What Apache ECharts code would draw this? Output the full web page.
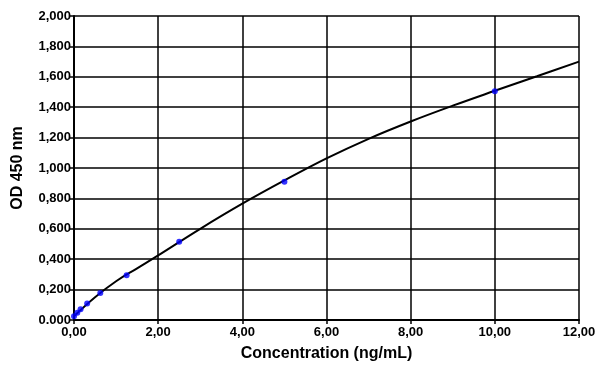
<!DOCTYPE html>
<html>
<head>
<meta charset="utf-8">
<script src="https://cdn.jsdelivr.net/npm/echarts@6/dist/echarts.min.js"></script>
<style>html,body{margin:0;padding:0;background:#fff}#c{width:600px;height:372px}</style>
</head>
<body>
<div id="c"></div>
<script>
// Standard points (concentration ng/mL, OD 450 nm)
var pointX = [0, 0.078, 0.156, 0.3125, 0.625, 1.25, 2.5, 5, 10];
var pointY = [0.025, 0.048, 0.07, 0.108, 0.178, 0.295, 0.515, 0.91, 1.505];
// Fitted curve
var curveX = [0, 0.5, 1, 1.5, 2, 3, 4, 5, 6, 7, 8, 9, 10, 11, 12];
var curveY = [0.025, 0.15, 0.255, 0.34, 0.425, 0.6, 0.765, 0.918, 1.063, 1.192, 1.306, 1.41, 1.508, 1.604, 1.70];
// Tick labels
var xTickLabels = ['0,00', '2,00', '4,00', '6,00', '8,00', '10,00', '12,00'];
var yTickLabels = ['0.000', '0,200', '0,400', '0,600', '0,800', '1,000', '1,200', '1,400', '1,600', '1,800', '2,000'];

var chart = echarts.init(document.getElementById('c'));
var font = 'Liberation Sans, Arial, sans-serif';
chart.setOption({
  animation: false,
  grid: { left: 74, right: 21, top: 16, bottom: 52 },
  xAxis: {
    type: 'value', min: 0, max: 12, interval: 2,
    name: 'Concentration (ng/mL)', nameLocation: 'middle', nameGap: 26,
    nameTextStyle: { fontFamily: font, fontWeight: 'bold', fontSize: 16, color: '#000' },
    axisLine: { show: true, lineStyle: { color: '#000', width: 2 } },
    axisTick: { show: true, length: 4, lineStyle: { color: '#000', width: 1.5 } },
    axisLabel: { margin: 6, fontFamily: font, fontWeight: 'bold', fontSize: 13, color: '#000',
      formatter: function (v) { return xTickLabels[Math.round(v / 2)]; } },
    splitLine: { show: true, lineStyle: { color: '#000', width: 1.5 } }
  },
  yAxis: {
    type: 'value', min: 0, max: 2, interval: 0.2,
    name: 'OD 450 nm', nameLocation: 'middle', nameGap: 48, nameRotate: 90,
    nameTextStyle: { fontFamily: font, fontWeight: 'bold', fontSize: 16, color: '#000' },
    axisLine: { show: true, lineStyle: { color: '#000', width: 2 } },
    axisTick: { show: true, length: 4, lineStyle: { color: '#000', width: 1.5 } },
    axisLabel: { margin: 3, fontFamily: font, fontWeight: 'bold', fontSize: 13, color: '#000',
      formatter: function (v) { return yTickLabels[Math.round(v / 0.2)]; } },
    splitLine: { show: true, lineStyle: { color: '#000', width: 1.5 } }
  },
  series: [
    {
      type: 'line', smooth: 0.4, showSymbol: false,
      lineStyle: { color: '#000', width: 2 },
      data: curveX.map(function (x, i) { return [x, curveY[i]]; }),
      z: 2
    },
    {
      type: 'scatter', symbolSize: 6,
      itemStyle: { color: '#0000ff' },
      data: pointX.map(function (x, i) { return [x, pointY[i]]; }),
      z: 3
    }
  ]
});
</script>
</body>
</html>
